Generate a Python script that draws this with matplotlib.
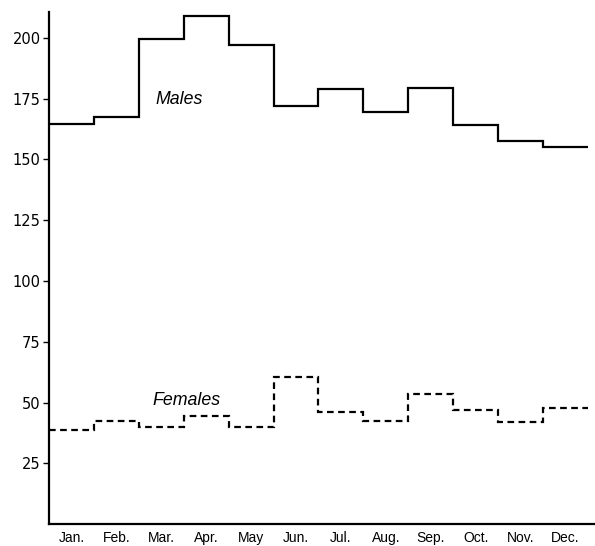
import numpy as np
import matplotlib
matplotlib.use('Agg')
import matplotlib.pyplot as plt

MONTHS = ['Jan.', 'Feb.', 'Mar.', 'Apr.', 'May', 'Jun.', 'Jul.', 'Aug.',
          'Sep.', 'Oct.', 'Nov.', 'Dec.']
MALES = [164.5, 167.5, 199.5, 209, 197, 172, 179, 169.5, 179.5, 164, 157.5, 155]
FEMALES = [38.7, 42.4, 39.8, 44.6, 40.1, 60.7, 46, 42.3, 53.6, 47, 42.2, 47.8]
YTICKS = [25, 50, 75, 100, 125, 150, 175, 200]

plt.rcParams['font.family'] = ['Liberation Sans', 'DejaVu Sans']

fig = plt.figure(figsize=(5.95, 5.46), dpi=100)
ax = fig.add_axes([0.0824, 0.0397, 0.9176, 0.938])

edges = np.arange(len(MONTHS) + 1)
ax.stairs(MALES, edges, baseline=None, color='black', lw=1.6)
ax.stairs(FEMALES, edges, baseline=None, color='black', lw=1.6,
          linestyle=(0, (3, 2)))

ax.text(2.89, 174.8, 'Males', fontsize=12.8, style='italic', ha='center', va='center')
ax.text(3.07, 50.8, 'Females', fontsize=12.8, style='italic', ha='center', va='center')

ax.set_xlim(0, 12.16)
ax.set_ylim(0, 210.5)
ax.set_xticks(edges[:-1] + 0.5)
ax.set_xticklabels(MONTHS, fontsize=10)
ax.set_yticks(YTICKS)
ax.set_yticklabels([str(v) for v in YTICKS], fontsize=10.5, family='DejaVu Sans')
ax.tick_params(axis='x', length=0, pad=5)
ax.tick_params(axis='y', length=4, width=1, pad=2)

for s in ('top', 'right'):
    ax.spines[s].set_visible(False)
for s in ('left', 'bottom'):
    ax.spines[s].set_linewidth(1.6)

fig.savefig('out.png', dpi=100)
